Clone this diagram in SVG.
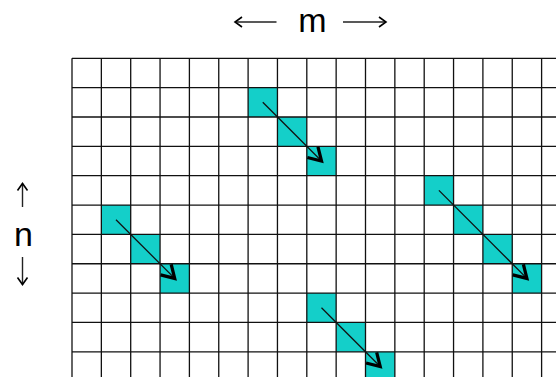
<svg xmlns="http://www.w3.org/2000/svg" width="556" height="377" viewBox="0 0 556 377">
<style>
.cell{fill:#14CFC9;}
.grid line{stroke:#111;stroke-width:1.3;}
.conn{stroke:#111;stroke-width:1.3;fill:none;}
.lbl{font-family:"Liberation Sans",Arial,sans-serif;font-size:34px;fill:#000;}
.dim{stroke:#222;stroke-width:1.4;fill:none;}
</style>
<defs>
<marker id="ah" markerUnits="userSpaceOnUse" markerWidth="20" markerHeight="20" viewBox="-12 -8 14 16" refX="0" refY="0" orient="auto">
<path d="M-10,-6 L0,0 L-10,6" fill="none" stroke="#000" stroke-width="2.6" stroke-linejoin="miter"/>
</marker>
<marker id="dh" markerUnits="userSpaceOnUse" markerWidth="14" markerHeight="14" viewBox="-9 -7 10 14" refX="0" refY="0" orient="auto">
<path d="M-7,-5 L0,0 L-7,5" fill="none" stroke="#000" stroke-width="1.6"/>
</marker>
</defs>
<rect width="556" height="377" fill="#fff"/>
<g id="diag1">
<rect class="cell" x="248.1" y="87.65" width="29.35" height="29.35"/>
<rect class="cell" x="277.45" y="117" width="29.35" height="29.35"/>
<rect class="cell" x="306.8" y="146.35" width="29.35" height="29.35"/>
</g>
<g id="diag2">
<rect class="cell" x="101.35" y="205.05" width="29.35" height="29.35"/>
<rect class="cell" x="130.7" y="234.4" width="29.35" height="29.35"/>
<rect class="cell" x="160.05" y="263.75" width="29.35" height="29.35"/>
</g>
<g id="diag3">
<rect class="cell" x="424.2" y="175.7" width="29.35" height="29.35"/>
<rect class="cell" x="453.55" y="205.05" width="29.35" height="29.35"/>
<rect class="cell" x="482.9" y="234.4" width="29.35" height="29.35"/>
<rect class="cell" x="512.25" y="263.75" width="29.35" height="29.35"/>
</g>
<g id="diag4">
<rect class="cell" x="306.8" y="293.1" width="29.35" height="29.35"/>
<rect class="cell" x="336.15" y="322.45" width="29.35" height="29.35"/>
<rect class="cell" x="365.5" y="351.8" width="29.35" height="29.35"/>
</g>
<g id="grid" class="grid">
<line x1="72" y1="58.3" x2="72" y2="377"/>
<line x1="101.35" y1="58.3" x2="101.35" y2="377"/>
<line x1="130.7" y1="58.3" x2="130.7" y2="377"/>
<line x1="160.05" y1="58.3" x2="160.05" y2="377"/>
<line x1="189.4" y1="58.3" x2="189.4" y2="377"/>
<line x1="218.75" y1="58.3" x2="218.75" y2="377"/>
<line x1="248.1" y1="58.3" x2="248.1" y2="377"/>
<line x1="277.45" y1="58.3" x2="277.45" y2="377"/>
<line x1="306.8" y1="58.3" x2="306.8" y2="377"/>
<line x1="336.15" y1="58.3" x2="336.15" y2="377"/>
<line x1="365.5" y1="58.3" x2="365.5" y2="377"/>
<line x1="394.85" y1="58.3" x2="394.85" y2="377"/>
<line x1="424.2" y1="58.3" x2="424.2" y2="377"/>
<line x1="453.55" y1="58.3" x2="453.55" y2="377"/>
<line x1="482.9" y1="58.3" x2="482.9" y2="377"/>
<line x1="512.25" y1="58.3" x2="512.25" y2="377"/>
<line x1="541.6" y1="58.3" x2="541.6" y2="377"/>
<line x1="72" y1="58.3" x2="556" y2="58.3"/>
<line x1="72" y1="87.65" x2="556" y2="87.65"/>
<line x1="72" y1="117" x2="556" y2="117"/>
<line x1="72" y1="146.35" x2="556" y2="146.35"/>
<line x1="72" y1="175.7" x2="556" y2="175.7"/>
<line x1="72" y1="205.05" x2="556" y2="205.05"/>
<line x1="72" y1="234.4" x2="556" y2="234.4"/>
<line x1="72" y1="263.75" x2="556" y2="263.75"/>
<line x1="72" y1="293.1" x2="556" y2="293.1"/>
<line x1="72" y1="322.45" x2="556" y2="322.45"/>
<line x1="72" y1="351.8" x2="556" y2="351.8"/>
</g>
<g id="connectors">
<line class="conn" x1="262.8" y1="102.3" x2="321.5" y2="161" marker-end="url(#ah)"/>
<line class="conn" x1="116" y1="219.7" x2="174.7" y2="278.4" marker-end="url(#ah)"/>
<line class="conn" x1="438.9" y1="190.4" x2="526.9" y2="278.4" marker-end="url(#ah)"/>
<line class="conn" x1="321.5" y1="307.8" x2="380.2" y2="366.5" marker-end="url(#ah)"/>
</g>
<g id="labels">
<text class="lbl" x="312.5" y="32" text-anchor="middle">m</text>
<line class="dim" x1="276.5" y1="22" x2="235" y2="22" marker-end="url(#dh)"/>
<line class="dim" x1="343" y1="22" x2="386" y2="22" marker-end="url(#dh)"/>
<text class="lbl" x="23.5" y="246" text-anchor="middle">n</text>
<line class="dim" x1="22.5" y1="207" x2="22.5" y2="183.5" marker-end="url(#dh)"/>
<line class="dim" x1="22.5" y1="257" x2="22.5" y2="284.5" marker-end="url(#dh)"/>
</g>
</svg>
